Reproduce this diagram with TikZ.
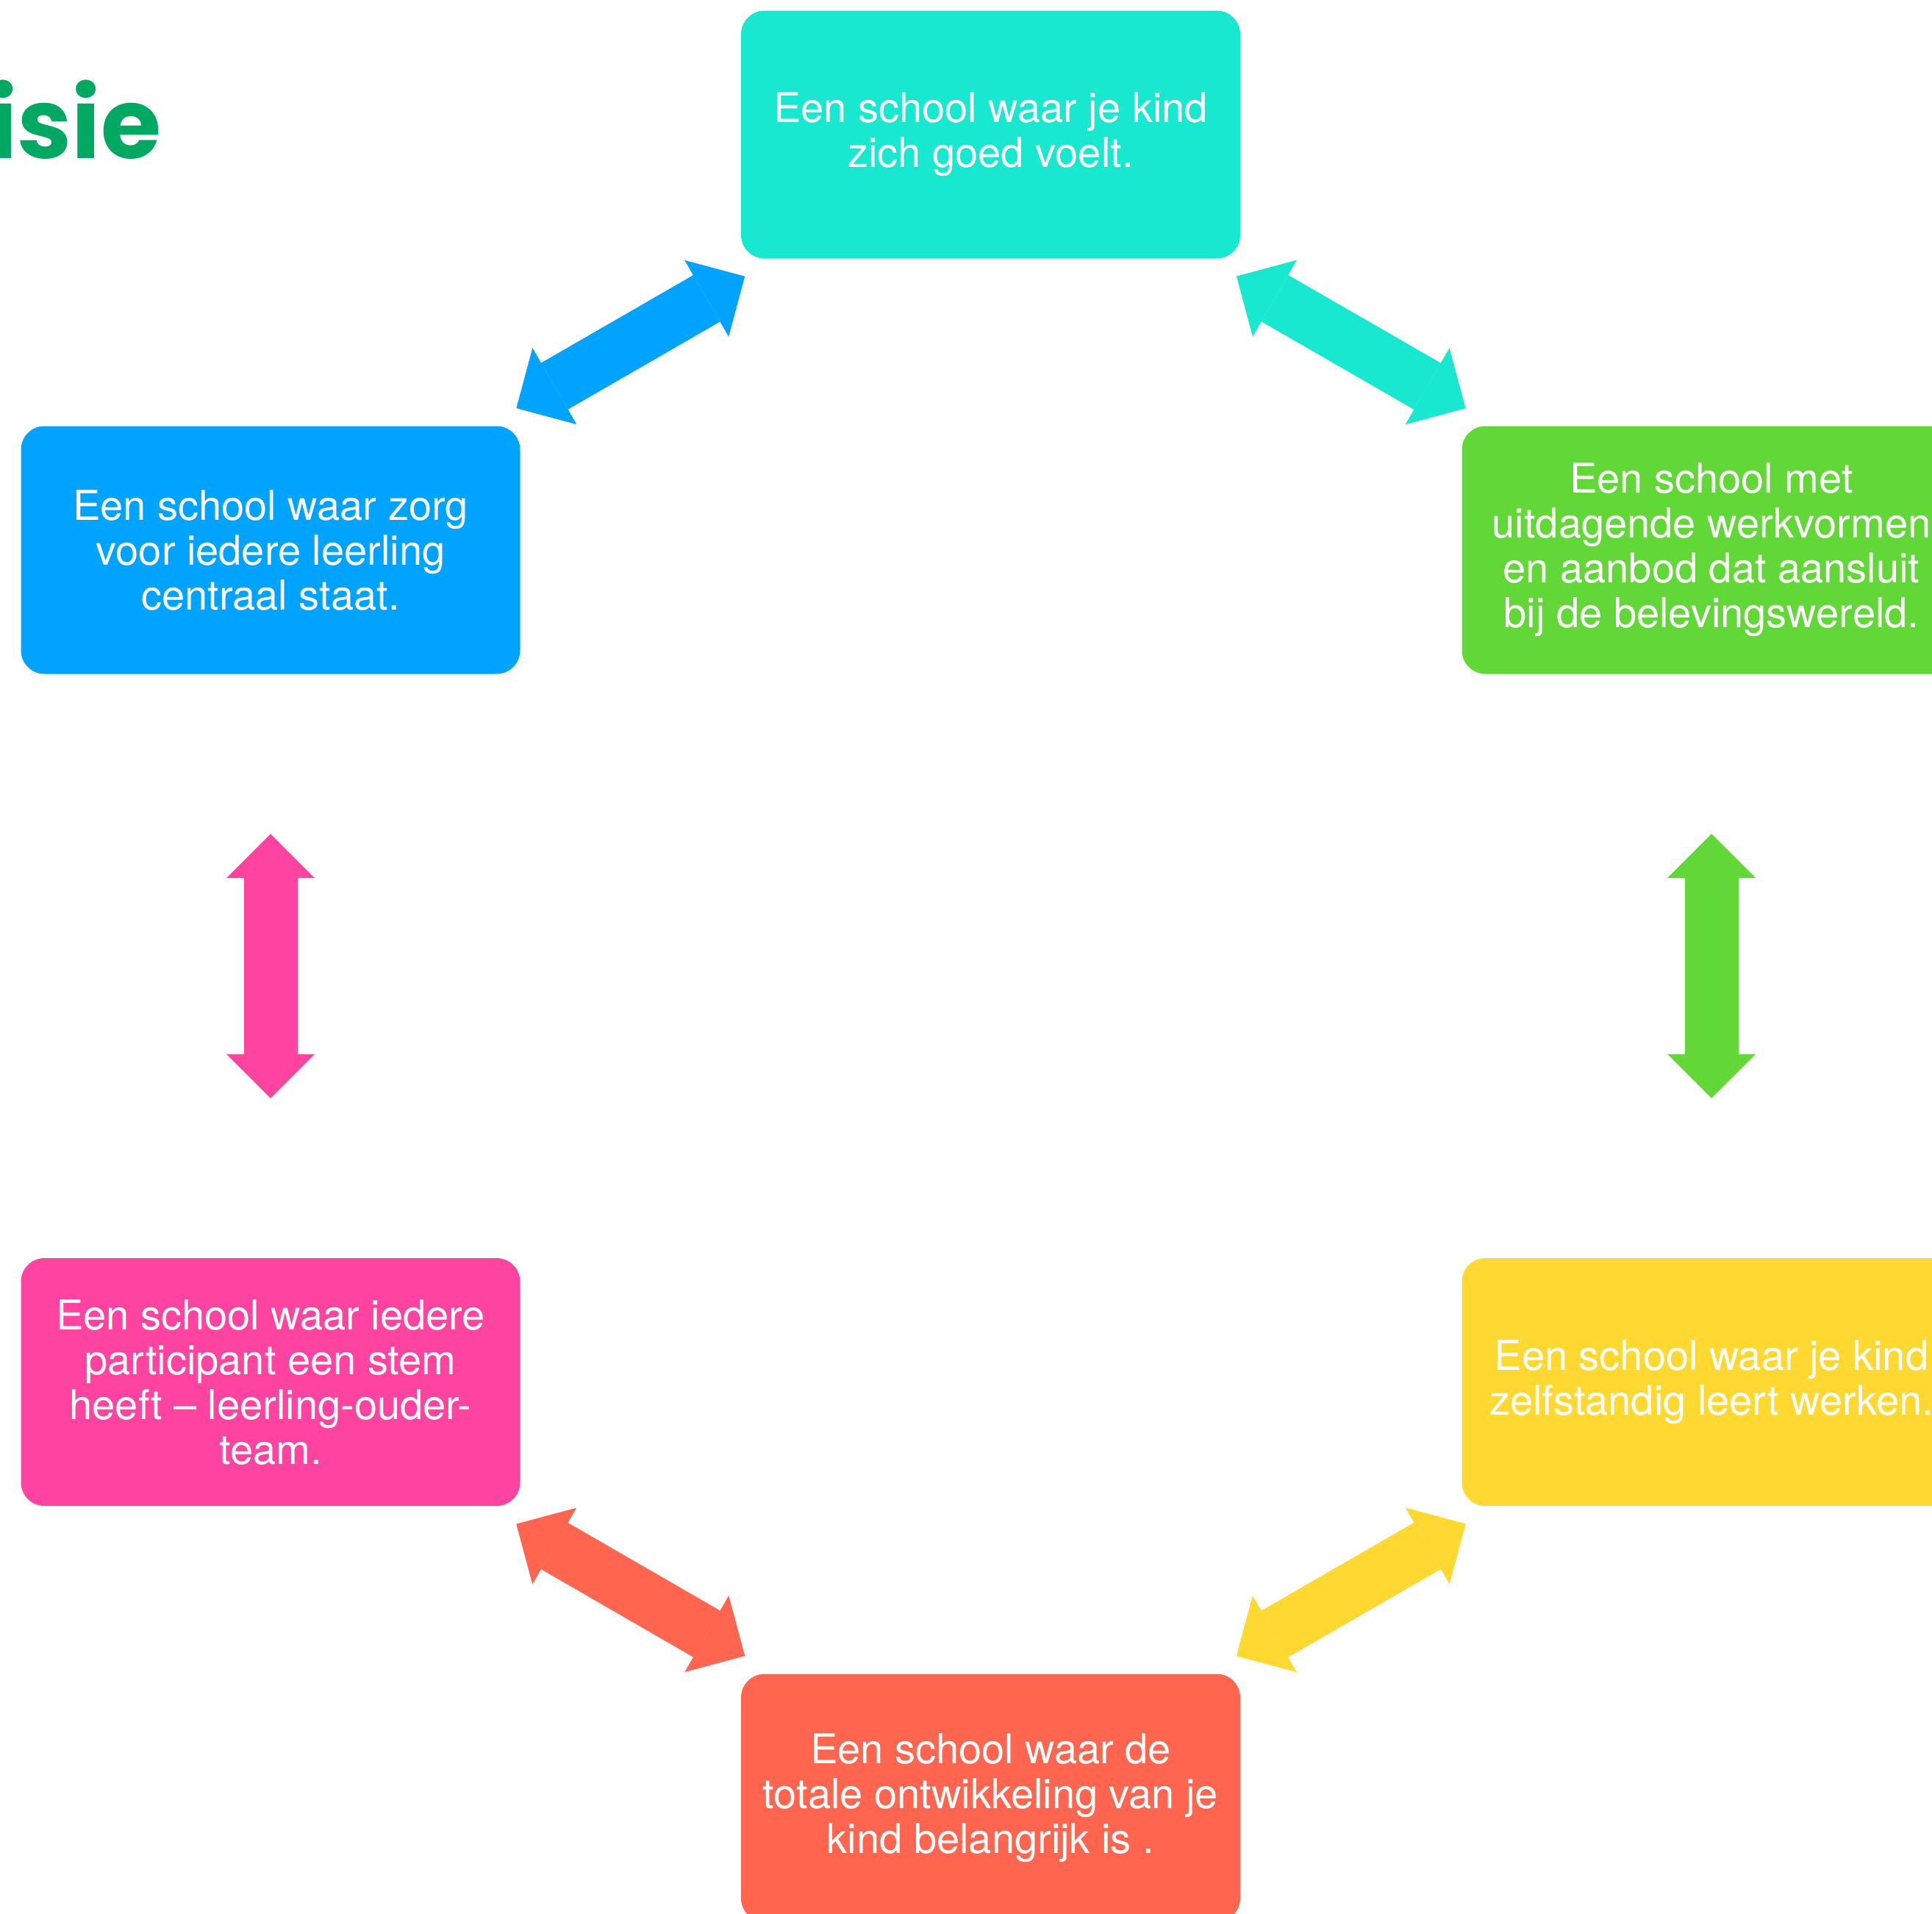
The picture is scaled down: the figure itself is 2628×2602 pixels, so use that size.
\documentclass[tikz,border=0pt]{standalone}
\usepackage{fontspec}
\setmainfont{TeX Gyre Heros}
\newfontfamily\titlefamily{Poppins}
\usetikzlibrary{arrows.meta}

\definecolor{tealbox}{HTML}{18E8CF}
\definecolor{bluebox}{HTML}{00A3FF}
\definecolor{greenbox}{HTML}{62D838}
\definecolor{yellowbox}{HTML}{FFD932}
\definecolor{redbox}{HTML}{FF654F}
\definecolor{pinkbox}{HTML}{FF43A1}
\definecolor{titlegreen}{HTML}{00A862}

\newcommand{\boxfont}{\fontsize{28pt}{30.5pt}\selectfont}
\newcommand{\titlefont}{\titlefamily\bfseries\fontsize{66.5pt}{70pt}\selectfont}

\begin{document}
\begin{tikzpicture}[y=0.5pt, x=0.5pt, yscale=-1, inner sep=0pt, outer sep=0pt,
  visiebox/.style={rectangle, fill=#1, rounded corners=16pt, minimum width=339.5pt, minimum height=168.5pt, text=white, align=center, font=\boxfont},
  fatarrow/.style={draw=#1, line width=36.5pt, {Triangle[width=60pt,length=30pt,line width=0pt]}-{Triangle[width=60pt,length=30pt,line width=0pt]}, shorten <=193pt, shorten >=193pt}]
\useasboundingbox (0,0) rectangle (2628,2602);
% titel, links afgesneden
\node[anchor=base east, text=titlegreen, font=\titlefont] (titel) at (219,215) {isie};
% zes kaders in een zeshoek
\node[visiebox=tealbox] (goedvoelen) at (1347.5,183) {Een school waar je kind\\zich goed voelt.};
\node[visiebox=greenbox] (uitdaging) at (2328,748) {Een school met\\uitdagende werkvormen\\en aanbod dat aansluit\\bij de belevingswereld.};
\node[visiebox=yellowbox] (zelfstandig) at (2328,1879.5) {Een school waar je kind\\zelfstandig leert werken.};
\node[visiebox=redbox] (ontwikkeling) at (1347.5,2445) {Een school waar de\\totale ontwikkeling van je\\kind belangrijk is .};
\node[visiebox=pinkbox] (inspraak) at (368,1879.5) {Een school waar iedere\\participant een stem\\heeft -- leerling-ouder-\\team.};
\node[visiebox=bluebox] (zorg) at (368,748) {Een school waar zorg\\voor iedere leerling\\centraal staat.};
% dubbele pijlen
\draw[fatarrow=tealbox] (goedvoelen.center) -- (uitdaging.center);
\draw[fatarrow=greenbox] (uitdaging.center) -- (zelfstandig.center);
\draw[fatarrow=yellowbox] (zelfstandig.center) -- (ontwikkeling.center);
\draw[fatarrow=redbox] (ontwikkeling.center) -- (inspraak.center);
\draw[fatarrow=pinkbox] (inspraak.center) -- (zorg.center);
\draw[fatarrow=bluebox] (zorg.center) -- (goedvoelen.center);
\end{tikzpicture}
\end{document}
